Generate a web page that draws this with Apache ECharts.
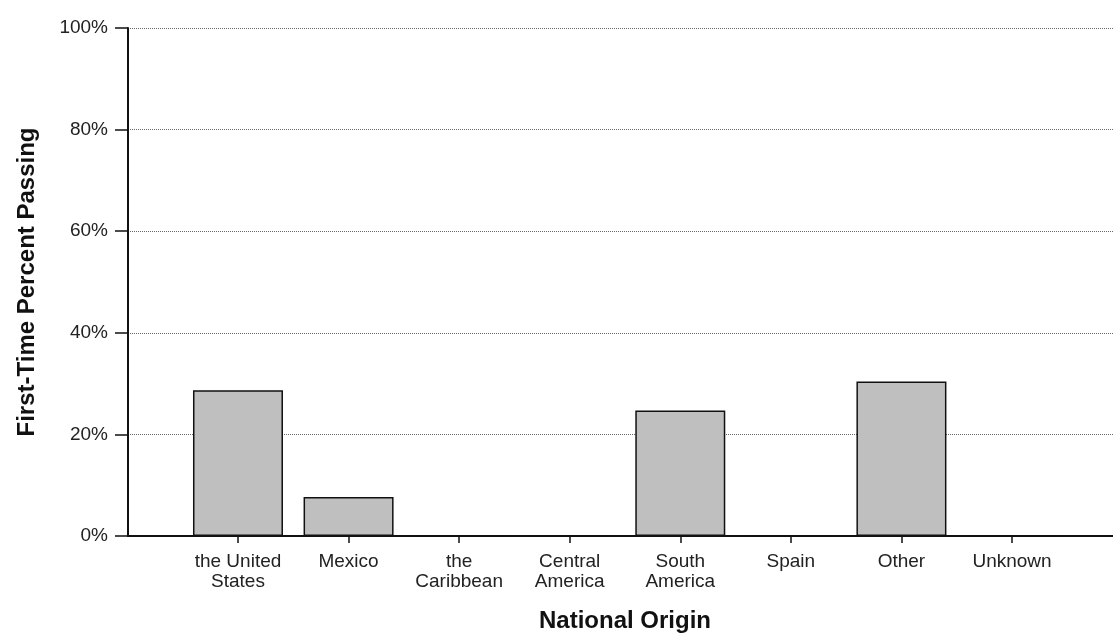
<!DOCTYPE html>
<html>
<head>
<meta charset="utf-8">
<script src="https://cdn.jsdelivr.net/npm/echarts@6/dist/echarts.min.js"></script>
<style>
html,body{margin:0;padding:0;background:#fff;}
#c{width:1113px;height:633px;}
</style>
</head>
<body>
<div id="c"></div>
<script>
var categories = ['the United\nStates', 'Mexico', 'the\nCaribbean', 'Central\nAmerica', 'South\nAmerica', 'Spain', 'Other', 'Unknown'];
var passRates = [28.7, 7.7, 0, 0, 24.7, 0, 30.4, 0];
var yTicks = [0, 20, 40, 60, 80, 100];

var font = 'Liberation Sans, Arial, sans-serif';
var chart = echarts.init(document.getElementById('c'), null, {renderer: 'canvas'});
chart.setOption({
  animation: false,
  backgroundColor: '#ffffff',
  grid: [
    {left: 128, right: 0, top: 28, bottom: 97, outerBoundsMode: 'none', containLabel: false},
    {left: 182.7, right: 45.7, top: 28, bottom: 97, outerBoundsMode: 'none', containLabel: false}
  ],
  xAxis: [
    {
      gridIndex: 0, type: 'value', min: 0, max: 1,
      axisLine: {show: true, lineStyle: {color: '#111', width: 2}},
      axisTick: {show: false}, axisLabel: {show: false}, splitLine: {show: false}
    },
    {
      gridIndex: 1, type: 'category', data: categories,
      axisLine: {show: false},
      axisTick: {show: true, alignWithLabel: true, length: 7, lineStyle: {color: '#111', width: 1.5}},
      axisLabel: {show: true, interval: 0, margin: 16, fontFamily: font, fontSize: 19, color: '#222', lineHeight: 20},
      name: 'National Origin', nameLocation: 'middle', nameGap: 73,
      nameTextStyle: {fontFamily: font, fontSize: 24, fontWeight: 'bold', color: '#111'}
    }
  ],
  yAxis: [
    {
      gridIndex: 0, type: 'value', min: yTicks[0], max: yTicks[yTicks.length - 1], interval: 20,
      axisLine: {show: true, lineStyle: {color: '#111', width: 2}},
      axisTick: {show: true, inside: false, length: 13, lineStyle: {color: '#111', width: 1.5}},
      axisLabel: {formatter: '{value}%', margin: 20, fontFamily: font, fontSize: 19, color: '#222'},
      splitLine: {show: true, lineStyle: {color: '#666', width: 1, type: 'dotted'}},
      name: 'First-Time Percent Passing', nameLocation: 'middle', nameGap: 89, nameRotate: 90,
      nameTextStyle: {fontFamily: font, fontSize: 24, fontWeight: 'bold', color: '#111'}
    },
    {
      gridIndex: 1, type: 'value', min: 0, max: 100, show: false
    }
  ],
  series: [
    {
      type: 'bar', xAxisIndex: 1, yAxisIndex: 1,
      data: passRates, barWidth: 90,
      itemStyle: {color: '#bfbfbf', borderColor: '#111', borderWidth: 1.5}
    }
  ]
});
</script>
</body>
</html>
